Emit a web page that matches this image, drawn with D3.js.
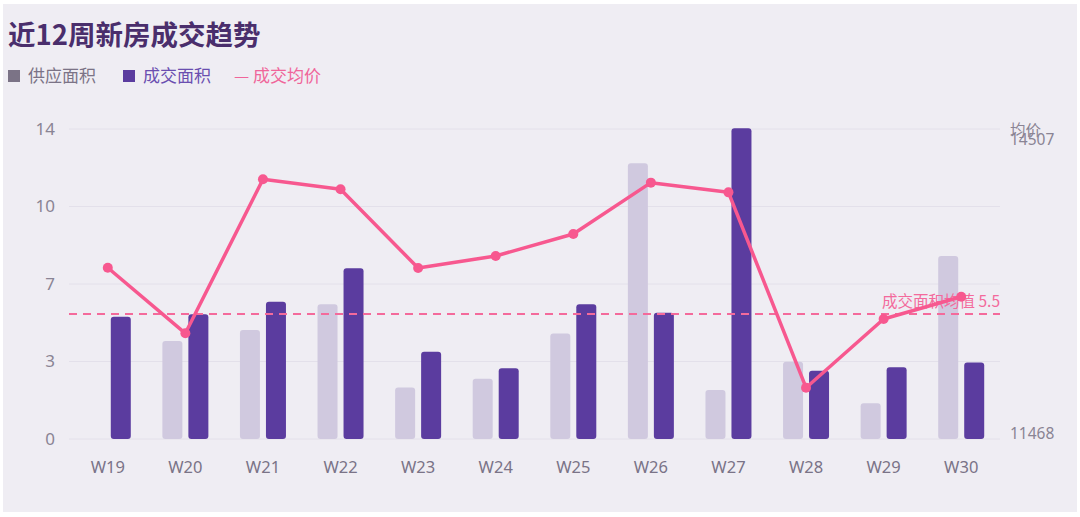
<!DOCTYPE html>
<html>
<head>
<meta charset="utf-8">
<script src="https://cdn.jsdelivr.net/npm/d3@7"></script>
<style>
  body { margin: 0; background: #fff; }
  svg { display: block; font-family: "Noto Sans CJK SC", "Noto Sans", sans-serif; }
</style>
</head>
<body>
<script>
    var w = 1080;
    var h = 517;

    // data
    var weeks = ["W19", "W20", "W21", "W22", "W23", "W24", "W25", "W26", "W27", "W28", "W29", "W30"];
    var supply = [0, 4.43, 4.92, 6.08, 2.33, 2.72, 4.77, 12.45, 2.21, 3.49, 1.61, 8.27];
    var deal = [5.52, 5.63, 6.2, 7.71, 3.94, 3.19, 6.08, 5.7, 14.03, 3.08, 3.24, 3.46];
    var price = [13147, 12504, 14014, 13916, 13144, 13262, 13478, 13981, 13886, 11971, 12644, 12863];
    var leftTicks = [0, 3.5, 7, 10.5, 14];
    var priceRange = [11468, 14507];
    var avgText = "成交面积均值 5.5";

    var purple = "#5b3c9f", lilac = "#d0c9df", pink = "#f7588f";

    var svg = d3.select("body")
                .append("svg")
                .attr("width", w)
                .attr("height", h);

    // card background
    svg.append("rect")
       .attr("x", 3).attr("y", 4)
       .attr("width", 1074).attr("height", 508)
       .attr("fill", "#efedf3");

    var x = d3.scaleBand()
              .domain(weeks)
              .range([69, 1000]);

    var y = d3.scaleLinear()
              .domain([0, 14])
              .range([439, 129]);

    var yp = d3.scaleLinear()
               .domain(priceRange)
               .range([439, 129]);

    // title
    svg.append("text")
       .attr("x", 8).attr("y", 45)
       .attr("font-size", 27.5).attr("font-weight", "bold")
       .attr("fill", "#4a2e6c")
       .text("近12周新房成交趋势");

    // legend
    var legend = svg.append("g").attr("font-size", 17);
    legend.append("rect").attr("x", 8).attr("y", 70).attr("width", 12).attr("height", 12).attr("fill", "#7b7386");
    legend.append("text").attr("x", 28).attr("y", 82).attr("fill", "#7b7386").text("供应面积");
    legend.append("rect").attr("x", 123).attr("y", 70).attr("width", 12).attr("height", 12).attr("fill", purple);
    legend.append("text").attr("x", 143).attr("y", 82).attr("fill", "#6a4eb0").text("成交面积");
    legend.append("text").attr("x", 234).attr("y", 82).attr("fill", "#f0659a").text("— 成交均价");

    // grid + left axis
    var grid = svg.append("g");
    grid.selectAll("line")
        .data(leftTicks)
        .enter()
        .append("line")
        .attr("x1", 69).attr("x2", 1000)
        .attr("y1", d => y(d)).attr("y2", d => y(d))
        .attr("stroke", "#e3e0ea").attr("stroke-width", 1);

    svg.append("g")
       .attr("transform", "translate(58,0)")
       .call(d3.axisLeft(y).tickValues(leftTicks).tickSize(0).tickFormat(d => Math.floor(d)))
       .call(g => g.select(".domain").remove())
       .call(g => g.selectAll("text")
                   .attr("font-size", 17)
                   .attr("fill", "#8a8494")
                   .attr("font-family", "\"Noto Sans\", sans-serif"));

    // x axis labels
    svg.append("g")
       .attr("transform", "translate(0,458)")
       .call(d3.axisBottom(x).tickSize(0))
       .call(g => g.select(".domain").remove())
       .call(g => g.selectAll("text")
                   .attr("font-size", 16.5)
                   .attr("fill", "#7a7387")
                   .attr("font-family", "\"Noto Sans\", sans-serif"));

    // right axis labels
    var right = svg.append("g")
                   .attr("font-size", 15.5)
                   .attr("fill", "#8a8494")
                   .attr("font-family", "\"Noto Sans\", sans-serif");
    right.append("text").attr("x", 1010).attr("y", yp(priceRange[1]) + 16).text(priceRange[1]);
    right.append("text").attr("x", 1010).attr("y", yp(priceRange[1]) + 7)
         .attr("font-family", "\"Noto Sans CJK SC\", sans-serif").text("均价");
    right.append("text").attr("x", 1010).attr("y", yp(priceRange[0])).text(priceRange[0]);

    // bars
    var cx = d => x(d) + x.bandwidth() / 2;

    svg.selectAll("rect.supply")
       .data(weeks.map((d, i) => ({ week: d, v: supply[i] })).filter(d => d.v > 0))
       .enter()
       .append("rect")
       .attr("class", "supply")
       .attr("x", d => cx(d.week) - 23)
       .attr("y", d => y(d.v))
       .attr("width", 20)
       .attr("height", d => y(0) - y(d.v))
       .attr("rx", 3)
       .attr("fill", lilac);

    svg.selectAll("rect.deal")
       .data(weeks.map((d, i) => ({ week: d, v: deal[i] })))
       .enter()
       .append("rect")
       .attr("class", "deal")
       .attr("x", d => cx(d.week) + 3)
       .attr("y", d => y(d.v))
       .attr("width", 20)
       .attr("height", d => y(0) - y(d.v))
       .attr("rx", 3)
       .attr("fill", purple);

    // average line of deal area
    var avg = d3.mean(deal);
    svg.append("text")
       .attr("x", 1000).attr("y", y(avg) - 7)
       .attr("text-anchor", "end")
       .attr("font-size", 15.5)
       .attr("fill", "#f36a9c")
       .text(avgText);
    svg.append("line")
       .attr("x1", 69).attr("x2", 1000)
       .attr("y1", y(avg)).attr("y2", y(avg))
       .attr("stroke", "#f46a9b")
       .attr("stroke-width", 2)
       .attr("stroke-dasharray", "8,6");

    // price line
    var pts = weeks.map((d, i) => [cx(d), yp(price[i])]);
    svg.append("path")
       .attr("d", d3.line()(pts))
       .attr("fill", "none")
       .attr("stroke", pink)
       .attr("stroke-width", 3.5)
       .attr("stroke-linejoin", "round");

    svg.selectAll("circle")
       .data(pts)
       .enter()
       .append("circle")
       .attr("cx", d => d[0])
       .attr("cy", d => d[1])
       .attr("r", 5)
       .attr("fill", pink);
</script>
</body>
</html>
